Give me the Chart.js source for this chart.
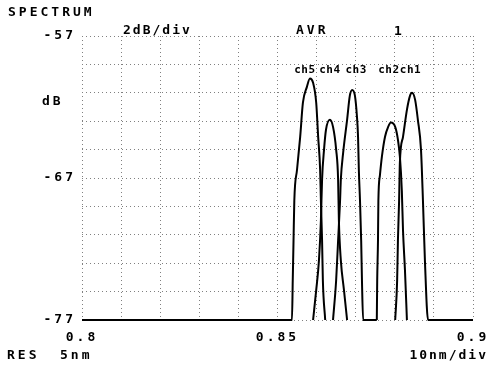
<!DOCTYPE html>
<html>
<head>
<meta charset="utf-8">
<script src="https://cdn.jsdelivr.net/npm/chart.js@4/dist/chart.umd.min.js"></script>
<style>
  body { margin: 0; background: #fff; }
</style>
</head>
<body>
<canvas id="myChart" width="488" height="374"></canvas>
<script>
// wavelength (um) / level (dB)
let ch5X = [0.8, 0.8537, 0.8539, 0.8541, 0.8543, 0.8550, 0.8558, 0.8565, 0.8575, 0.8583, 0.8591, 0.8599, 0.8604, 0.8609, 0.8611, 0.8614, 0.8616, 0.8622]
let ch5Y = [-77, -77, -74.2, -71.4, -68.6, -66.4, -64.1, -61.7, -60.6, -60.0, -60.3, -61.7, -64.1, -66.4, -68.6, -71.4, -74.2, -77]

let ch4X = [0.8591, 0.8599, 0.8606, 0.8611, 0.8614, 0.8619, 0.8624, 0.8634, 0.8642, 0.8650, 0.8655, 0.8657, 0.8662, 0.8670, 0.8678]
let ch4Y = [-77, -74.9, -72.8, -70.0, -67.1, -65.0, -63.6, -62.9, -63.4, -65.0, -67.1, -70.0, -72.8, -74.9, -77]

let ch3X = [0.8642, 0.8650, 0.8655, 0.8660, 0.8662, 0.8668, 0.8678, 0.8685, 0.8691, 0.8698, 0.8703, 0.8706, 0.8708, 0.8711, 0.8714, 0.8716, 0.8719, 0.8754]
let ch3Y = [-77, -74.2, -71.4, -68.6, -67.1, -65.2, -62.9, -61.2, -60.8, -61.2, -62.6, -64.1, -66.4, -68.6, -71.4, -74.2, -77, -77]

let ch2X = [0.8754, 0.8755, 0.8757, 0.8758, 0.8762, 0.8767, 0.8775, 0.8783, 0.8790, 0.8801, 0.8808, 0.8813, 0.8818, 0.8821, 0.8826, 0.8831]
let ch2Y = [-77, -74.2, -71.4, -68.6, -66.8, -65.5, -64.1, -63.4, -63.1, -63.4, -64.3, -65.5, -67.9, -70.7, -73.5, -77]

let ch1X = [0.8801, 0.8806, 0.8808, 0.8811, 0.8813, 0.8821, 0.8831, 0.8839, 0.8844, 0.8852, 0.8859, 0.8867, 0.8872, 0.8877, 0.8885, 0.9]
let ch1Y = [-77, -74.2, -71.4, -68.6, -65.9, -64.1, -62.2, -61.2, -61.0, -61.5, -62.9, -65.0, -68.6, -72.8, -77, -77]

let chNames = ['ch5', 'ch4', 'ch3', 'ch2', 'ch1']
let chLabelX = [0.8570, 0.8634, 0.8701, 0.8785, 0.8840]
let chLabelY = -59.4

let xTickLabels = ['0.8', '0.85', '0.9']
let yTickLabels = ['-57', '-67', '-77']

const FONT = '"DejaVu Sans Mono", monospace'

function toPoints(xs, ys) {
    return xs.map((x, i) => ({ x: x, y: ys[i] }))
}

function trace(label, xs, ys) {
    return {
        label: label,
        data: toPoints(xs, ys),
        borderColor: '#000',
        borderWidth: 2,
        pointRadius: 0,
        fill: false,
        cubicInterpolationMode: 'monotone',
        borderJoinStyle: 'round',
        clip: 5
    }
}

const spacingPlugin = {
    id: 'spacing',
    beforeDraw(chart) {
        chart.ctx.letterSpacing = '3px'
    }
}

const textPlugin = {
    id: 'panelText',
    afterDraw(chart) {
        let ctx = chart.ctx
        let xs = chart.scales.x
        let ys = chart.scales.y
        ctx.save()
        ctx.fillStyle = '#000'
        ctx.textBaseline = 'middle'
        ctx.font = 'bold 13px ' + FONT
        ctx.letterSpacing = '3px'
        ctx.textAlign = 'left'
        ctx.fillText('SPECTRUM', 8, 13)
        ctx.fillText('AVR', 296, 31)
        ctx.fillText('dB', 42, 102)
        ctx.fillText('RES', 7, 356)
        ctx.fillText('5nm', 60, 356)
        ctx.letterSpacing = '2px'
        ctx.fillText('2dB/div', 123, 31)
        ctx.fillText('1', 394, 32)
        ctx.textAlign = 'right'
        ctx.fillText('10nm/div', 488, 356)

        ctx.font = 'bold 11px ' + FONT
        ctx.letterSpacing = '0.5px'
        ctx.textAlign = 'center'
        chNames.forEach((name, i) => {
            ctx.fillText(name, xs.getPixelForValue(chLabelX[i]), ys.getPixelForValue(chLabelY))
        })
        ctx.restore()
    }
}

let myChart = new Chart(document.getElementById('myChart').getContext('2d'), {
    type: 'line',
    data: {
        datasets: [
            trace('ch5', ch5X, ch5Y),
            trace('ch4', ch4X, ch4Y),
            trace('ch3', ch3X, ch3Y),
            trace('ch2', ch2X, ch2Y),
            trace('ch1', ch1X, ch1Y)
        ]
    },
    options: {
        responsive: false,
        animation: false,
        devicePixelRatio: 1,
        layout: { padding: { top: 36, right: 15, left: 0, bottom: 0 } },
        plugins: {
            legend: { display: false },
            tooltip: { enabled: false }
        },
        scales: {
            x: {
                type: 'linear',
                min: 0.8,
                max: 0.9,
                afterFit: (scale) => {
                    scale.height = 54
                    scale.paddingRight = 15
                    scale.paddingLeft = 0
                },
                border: { display: false, dash: [1, 3] },
                grid: { color: '#808080', lineWidth: 1, drawTicks: false },
                ticks: {
                    stepSize: 0.01,
                    autoSkip: false,
                    maxRotation: 0,
                    padding: 10,
                    color: '#000',
                    font: { family: FONT, size: 13, weight: 'bold' },
                    callback: (v) => {
                        let r = Math.round(v * 100)
                        if (r === 80) return xTickLabels[0]
                        if (r === 85) return xTickLabels[1]
                        if (r === 90) return xTickLabels[2]
                        return ''
                    }
                }
            },
            y: {
                min: -77,
                max: -57,
                afterFit: (scale) => {
                    scale.width = 82
                    scale.paddingTop = 0
                    scale.paddingBottom = 0
                },
                border: { display: false, dash: [1, 3] },
                grid: { color: '#808080', lineWidth: 1, drawTicks: false },
                ticks: {
                    stepSize: 2,
                    autoSkip: false,
                    padding: 6,
                    color: '#000',
                    font: { family: FONT, size: 13, weight: 'bold' },
                    callback: (v) => {
                        let r = Math.round(v)
                        if (r === -57) return yTickLabels[0]
                        if (r === -67) return yTickLabels[1]
                        if (r === -77) return yTickLabels[2]
                        return ''
                    }
                }
            }
        }
    },
    plugins: [spacingPlugin, textPlugin]
})
</script>
</body>
</html>
